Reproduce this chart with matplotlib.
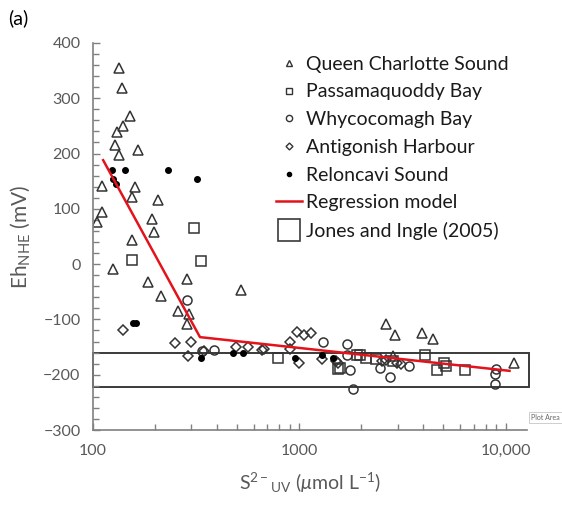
import numpy as np
import matplotlib
matplotlib.use("Agg")
import matplotlib.pyplot as plt
from matplotlib.lines import Line2D
from matplotlib.patches import Rectangle

plt.rcParams['font.family'] = ['Lato', 'DejaVu Sans']
plt.rcParams['mathtext.fontset'] = 'custom'
plt.rcParams['mathtext.rm'] = 'Lato'
plt.rcParams['mathtext.it'] = 'Lato:italic'

# sulphide (umol/L) and Eh (mV) for each site
qcs_s = [134, 138, 151, 139, 131, 128, 166, 133, 110, 160, 155, 207, 110, 104, 194, 198,
         155, 125, 185, 213, 287, 521, 259, 292, 284, 2642, 2900, 2860, 3946, 4444, 10940]
qcs_eh = [355, 319, 268, 249, 239, 216, 207, 198, 141, 139, 121, 116, 94, 76, 81, 59,
          44, -8, -33, -58, -26, -47, -85, -91, -108, -108, -129, -167, -124, -136, -178]

pb_s = [308, 333, 155, 789, 1541, 1572, 1905, 1965, 2100, 2346, 2860, 4055, 4657, 5012, 5158, 6323]
pb_eh = [66, 6, 7, -169, -190, -188, -165, -165, -169, -171, -175, -165, -191, -178, -185, -191]

wb_s = [286, 336, 385, 1303, 1701, 1701, 1754, 1820, 2455, 2742, 3402, 9017, 8850, 8850]
wb_eh = [-65, -158, -156, -141, -145, -165, -192, -226, -188, -204, -185, -190, -198, -217]

ah_s = [140, 249, 297, 290, 345, 493, 565, 663, 673, 905, 905, 998, 975, 1054, 1137,
        1290, 1500, 1540, 2530, 2625, 2975, 3122]
ah_eh = [-120, -143, -140, -167, -157, -149, -149, -155, -153, -141, -153, -178, -122, -128, -125,
         -172, -175, -179, -176, -173, -179, -181]

rs_s = [123, 143, 231, 321, 125, 129, 156, 162, 332, 475, 534, 950, 1290, 1459]
rs_eh = [170, 170, 170, 154, 154, 145, -106, -106, -170, -161, -161, -170, -165, -169]

# piecewise regression (two segments)
reg_s = [112, 330, 10450]
reg_eh = [188, -132, -193]

# Jones and Ingle (2005) range
ji_s = (100, 13000)
ji_eh = (-222, -160)

fig = plt.figure(figsize=(5.62, 5.05), dpi=100)
ax = fig.add_axes([0.1655, 0.1485, 0.7722, 0.7664])

ec = '#333333'
ax.plot(qcs_s, qcs_eh, '^', ms=6.5, mfc='none', mec=ec, mew=1.1, ls='none')
ax.plot(pb_s, pb_eh, 's', ms=6.5, mfc='none', mec=ec, mew=1.1, ls='none')
ax.plot(wb_s, wb_eh, 'o', ms=6.5, mfc='none', mec=ec, mew=1.1, ls='none')
ax.plot(ah_s, ah_eh, 'D', ms=4.8, mfc='none', mec=ec, mew=1.1, ls='none')
ax.plot(rs_s, rs_eh, 'o', ms=4, mfc='black', mec='black', ls='none')
ax.plot(reg_s, reg_eh, color='#e3121b', lw=1.8)

ax.add_patch(Rectangle((ji_s[0], ji_eh[0]), ji_s[1] - ji_s[0], ji_eh[1] - ji_eh[0],
                       fill=False, ec='#3a3a3a', lw=1.4, clip_on=False))

ax.set_xscale('log')
ax.set_xlim(100, 12700)
ax.set_ylim(-300, 400)
ax.set_yticks(np.arange(-300, 401, 100))
ax.set_yticks(np.arange(-300, 401, 20), minor=True)
ax.set_yticklabels(['\u2212300', '\u2212200', '\u2212100', '0', '100', '200', '300', '400'])
ax.set_xticks([100, 1000, 10000])
ax.set_xticklabels(['100', '1000', '10,000'])

for s in ['top', 'right']:
    ax.spines[s].set_visible(False)
for s in ['left', 'bottom']:
    ax.spines[s].set_color('#808080')
    ax.spines[s].set_linewidth(1.2)
ax.tick_params(which='both', direction='in', color='#808080', width=1)
ax.tick_params(which='major', length=5, labelsize=11.5, labelcolor='#595959')
ax.tick_params(which='minor', length=4)
ax.tick_params(axis='x', pad=10)
ax.tick_params(axis='y', pad=9)

ax.set_ylabel('Eh$_{\\mathregular{NHE}}$ (mV)', fontsize=15, color='#595959', labelpad=8)
ax.set_xlabel('S$^{2\u2212}$$_{\\mathregular{UV}}$ ($\\mu$mol L$^{\u22121}$)', fontsize=14,
              color='#595959', labelpad=9)

fig.text(0.015, 0.953, '(a)', fontsize=14)

handles = [
    Line2D([], [], marker='^', ms=4.5, mfc='none', mec=ec, mew=1, ls='none'),
    Line2D([], [], marker='s', ms=4.5, mfc='none', mec=ec, mew=1, ls='none'),
    Line2D([], [], marker='o', ms=4.5, mfc='none', mec=ec, mew=1, ls='none'),
    Line2D([], [], marker='D', ms=3.5, mfc='none', mec=ec, mew=1, ls='none'),
    Line2D([], [], marker='o', ms=3, mfc='black', mec='black', ls='none'),
    Line2D([], [], color='#e3121b', lw=1.8),
    Line2D([], [], marker='s', ms=16, mfc='none', mec='#3a3a3a', mew=1.2, ls='none'),
]
labels = ['Queen Charlotte Sound', 'Passamaquoddy Bay', 'Whycocomagh Bay',
          'Antigonish Harbour', 'Reloncavi Sound', 'Regression model', 'Jones and Ingle (2005)']
fig.legend(handles, labels, loc='upper left', bbox_to_anchor=(0.477, 0.905), frameon=False,
           fontsize=14, handlelength=1.35, handletextpad=0.2, labelspacing=0.55,
           labelcolor='#1a1a1a', borderaxespad=0)

fig.text(0.945, 0.168, 'Plot Area', fontsize=5, color='#666666',
         bbox=dict(boxstyle='square,pad=0.3', fc='white', ec='#bbbbbb', lw=0.5))

fig.savefig('out.png', dpi=100)
